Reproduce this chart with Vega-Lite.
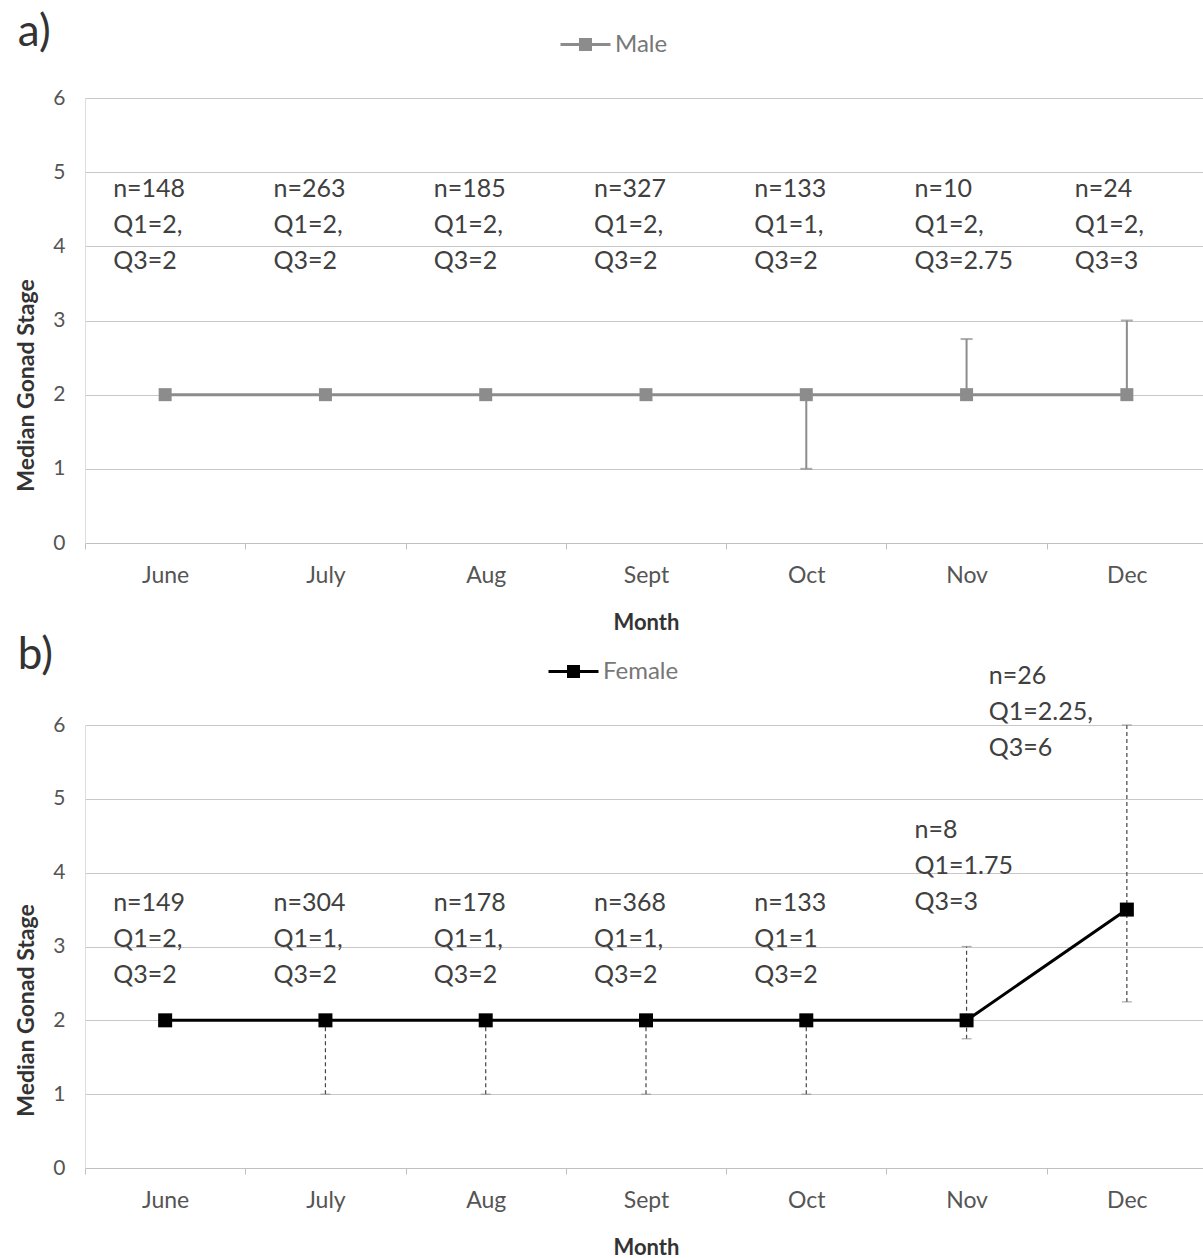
{
  "$schema": "https://vega.github.io/schema/vega-lite/v6.json",
  "background": "white",
  "padding": {"left": 15, "top": 11, "right": 0, "bottom": 0},
  "spacing": 1,
  "config": {
    "font": "Lato",
    "view": {"stroke": null},
    "axisY": {"grid": true, "gridColor": "#c8c8c8", "gridWidth": 1.2, "domain": true, "domainColor": "#dddddd", "ticks": false, "labelFontSize": 21, "labelColor": "#555555", "labelPadding": 20, "titleFontSize": 23, "titleFontWeight": "bold", "titleColor": "#333333", "titlePadding": 14, "titleY": 287, "format": "d"},
    "axisX": {"grid": false, "domain": true, "domainColor": "#c0c0c0", "domainWidth": 1.2, "ticks": true, "tickBand": "extent", "tickColor": "#c0c0c0", "tickSize": 6, "labelAngle": 0, "labelFontSize": 23, "labelColor": "#555555", "labelPadding": 15, "titleFontSize": 22, "titleFontWeight": "bold", "titleColor": "#333333", "titlePadding": 25},
    "legend": {"labelFontSize": 24, "labelColor": "#777777", "title": null, "symbolType": "M-1,0H1M-0.2,-0.2H0.2V0.2H-0.2Z", "symbolSize": 2500, "symbolStrokeWidth": 3, "labelOffset": 3}
  },
  "datasets": {
    "male": [
      {"month": "June", "sex": "Male", "median": 2, "q1": 2, "q3": 2, "label": "n=148\nQ1=2,\nQ3=2"},
      {"month": "July", "sex": "Male", "median": 2, "q1": 2, "q3": 2, "label": "n=263\nQ1=2,\nQ3=2"},
      {"month": "Aug", "sex": "Male", "median": 2, "q1": 2, "q3": 2, "label": "n=185\nQ1=2,\nQ3=2"},
      {"month": "Sept", "sex": "Male", "median": 2, "q1": 2, "q3": 2, "label": "n=327\nQ1=2,\nQ3=2"},
      {"month": "Oct", "sex": "Male", "median": 2, "q1": 1, "q3": 2, "label": "n=133\nQ1=1,\nQ3=2"},
      {"month": "Nov", "sex": "Male", "median": 2, "q1": 2, "q3": 2.75, "label": "n=10\nQ1=2,\nQ3=2.75"},
      {"month": "Dec", "sex": "Male", "median": 2, "q1": 2, "q3": 3, "label": "n=24\nQ1=2,\nQ3=3"}
    ],
    "female": [
      {"month": "June", "sex": "Female", "median": 2, "q1": 2, "q3": 2, "label": "n=149\nQ1=2,\nQ3=2"},
      {"month": "July", "sex": "Female", "median": 2, "q1": 1, "q3": 2, "label": "n=304\nQ1=1,\nQ3=2"},
      {"month": "Aug", "sex": "Female", "median": 2, "q1": 1, "q3": 2, "label": "n=178\nQ1=1,\nQ3=2"},
      {"month": "Sept", "sex": "Female", "median": 2, "q1": 1, "q3": 2, "label": "n=368\nQ1=1,\nQ3=2"},
      {"month": "Oct", "sex": "Female", "median": 2, "q1": 1, "q3": 2, "label": "n=133\nQ1=1\nQ3=2"},
      {"month": "Nov", "sex": "Female", "median": 2, "q1": 1.75, "q3": 3, "label": "n=8\nQ1=1.75\nQ3=3"},
      {"month": "Dec", "sex": "Female", "median": 3.5, "q1": 2.25, "q3": 6, "label": "n=26\nQ1=2.25,\nQ3=6"}
    ]
  },
  "resolve": {"scale": {"color": "independent"}, "legend": {"color": "independent"}},
  "vconcat": [
    {
      "width": 1122,
      "height": 445,
      "data": {"name": "male"},
      "title": {"text": "a)", "anchor": "start", "frame": "bounds", "dx": 2, "fontSize": 44, "fontWeight": "normal", "color": "#333333", "baseline": "alphabetic", "offset": -72},
      "encoding": {
        "x": {"field": "month", "type": "ordinal", "sort": ["June", "July", "Aug", "Sept", "Oct", "Nov", "Dec"], "scale": {"type": "band", "paddingInner": 0, "paddingOuter": 0}, "title": "Month"}
      },
      "layer": [
        {
          "mark": {"type": "rule", "color": "#8c8c8c", "strokeWidth": 2},
          "encoding": {
            "y": {"field": "q1", "type": "quantitative", "scale": {"domain": [0, 6]}, "axis": {"values": [0, 1, 2, 3, 4, 5, 6]}, "title": "Median Gonad Stage"},
            "y2": {"field": "q3"}
          }
        },
        {
          "mark": {"type": "tick", "color": "#8c8c8c", "size": 12, "thickness": 2},
          "encoding": {"y": {"field": "q1", "type": "quantitative", "title": "Median Gonad Stage"}}
        },
        {
          "mark": {"type": "tick", "color": "#8c8c8c", "size": 12, "thickness": 2},
          "encoding": {"y": {"field": "q3", "type": "quantitative", "title": "Median Gonad Stage"}}
        },
        {
          "mark": {"type": "line", "strokeWidth": 3},
          "encoding": {
            "y": {"field": "median", "type": "quantitative", "title": "Median Gonad Stage"},
            "color": {"field": "sex", "type": "nominal", "scale": {"domain": ["Male"], "range": ["#8c8c8c"]},
              "legend": {"orient": "none", "legendX": 474, "legendY": -80, "encode": {"symbols": {"update": {"fill": {"value": "#8c8c8c"}, "stroke": {"value": "#8c8c8c"}, "opacity": {"value": 1}}}}}}
          }
        },
        {
          "mark": {"type": "point", "shape": "square", "filled": true, "size": 169, "opacity": 1},
          "encoding": {
            "y": {"field": "median", "type": "quantitative", "title": "Median Gonad Stage"},
            "color": {"field": "sex", "type": "nominal"}
          }
        },
        {
          "mark": {"type": "text", "align": "left", "baseline": "top", "dx": -52, "dy": 5, "fontSize": 25, "lineHeight": 36, "lineBreak": "\n", "color": "#404040"},
          "encoding": {
            "y": {"datum": 5, "type": "quantitative", "title": "Median Gonad Stage"},
            "text": {"field": "label", "type": "nominal"}
          }
        }
      ]
    },
    {
      "width": 1122,
      "height": 443,
      "data": {"name": "female"},
      "title": {"text": "b)", "anchor": "start", "frame": "bounds", "dx": 2, "fontSize": 44, "fontWeight": "normal", "color": "#333333", "baseline": "alphabetic", "offset": -68},
      "encoding": {
        "x": {"field": "month", "type": "ordinal", "sort": ["June", "July", "Aug", "Sept", "Oct", "Nov", "Dec"], "scale": {"type": "band", "paddingInner": 0, "paddingOuter": 0}, "title": "Month"}
      },
      "layer": [
        {
          "mark": {"type": "rule", "color": "#444444", "strokeWidth": 1.2, "strokeDash": [4, 3]},
          "encoding": {
            "y": {"field": "q1", "type": "quantitative", "scale": {"domain": [0, 6]}, "axis": {"values": [0, 1, 2, 3, 4, 5, 6], "titleY": 285}, "title": "Median Gonad Stage"},
            "y2": {"field": "q3"}
          }
        },
        {
          "mark": {"type": "tick", "color": "#888888", "size": 10, "thickness": 1.2},
          "encoding": {"y": {"field": "q1", "type": "quantitative", "title": "Median Gonad Stage"}}
        },
        {
          "mark": {"type": "tick", "color": "#888888", "size": 10, "thickness": 1.2},
          "encoding": {"y": {"field": "q3", "type": "quantitative", "title": "Median Gonad Stage"}}
        },
        {
          "mark": {"type": "line", "strokeWidth": 3},
          "encoding": {
            "y": {"field": "median", "type": "quantitative", "title": "Median Gonad Stage"},
            "color": {"field": "sex", "type": "nominal", "scale": {"domain": ["Female"], "range": ["#000000"]},
              "legend": {"orient": "none", "legendX": 462, "legendY": -80, "encode": {"symbols": {"update": {"fill": {"value": "#000000"}, "stroke": {"value": "#000000"}, "opacity": {"value": 1}}}}}}
          }
        },
        {
          "mark": {"type": "point", "shape": "square", "filled": true, "size": 196, "opacity": 1},
          "encoding": {
            "y": {"field": "median", "type": "quantitative", "title": "Median Gonad Stage"},
            "color": {"field": "sex", "type": "nominal"}
          }
        },
        {
          "transform": [{"filter": "datum.month !== 'Dec'"}],
          "mark": {"type": "text", "align": "left", "baseline": "bottom", "dx": -52, "dy": -104, "fontSize": 25, "lineHeight": 36, "lineBreak": "\n", "color": "#404040"},
          "encoding": {
            "y": {"field": "q3", "type": "quantitative", "title": "Median Gonad Stage"},
            "text": {"field": "label", "type": "nominal"}
          }
        },
        {
          "transform": [{"filter": "datum.month === 'Dec'"}],
          "mark": {"type": "text", "align": "left", "baseline": "middle", "dx": -138, "dy": -49, "fontSize": 25, "lineHeight": 36, "lineBreak": "\n", "color": "#404040"},
          "encoding": {
            "y": {"datum": 6, "type": "quantitative", "title": "Median Gonad Stage"},
            "text": {"field": "label", "type": "nominal"}
          }
        }
      ]
    }
  ]
}
